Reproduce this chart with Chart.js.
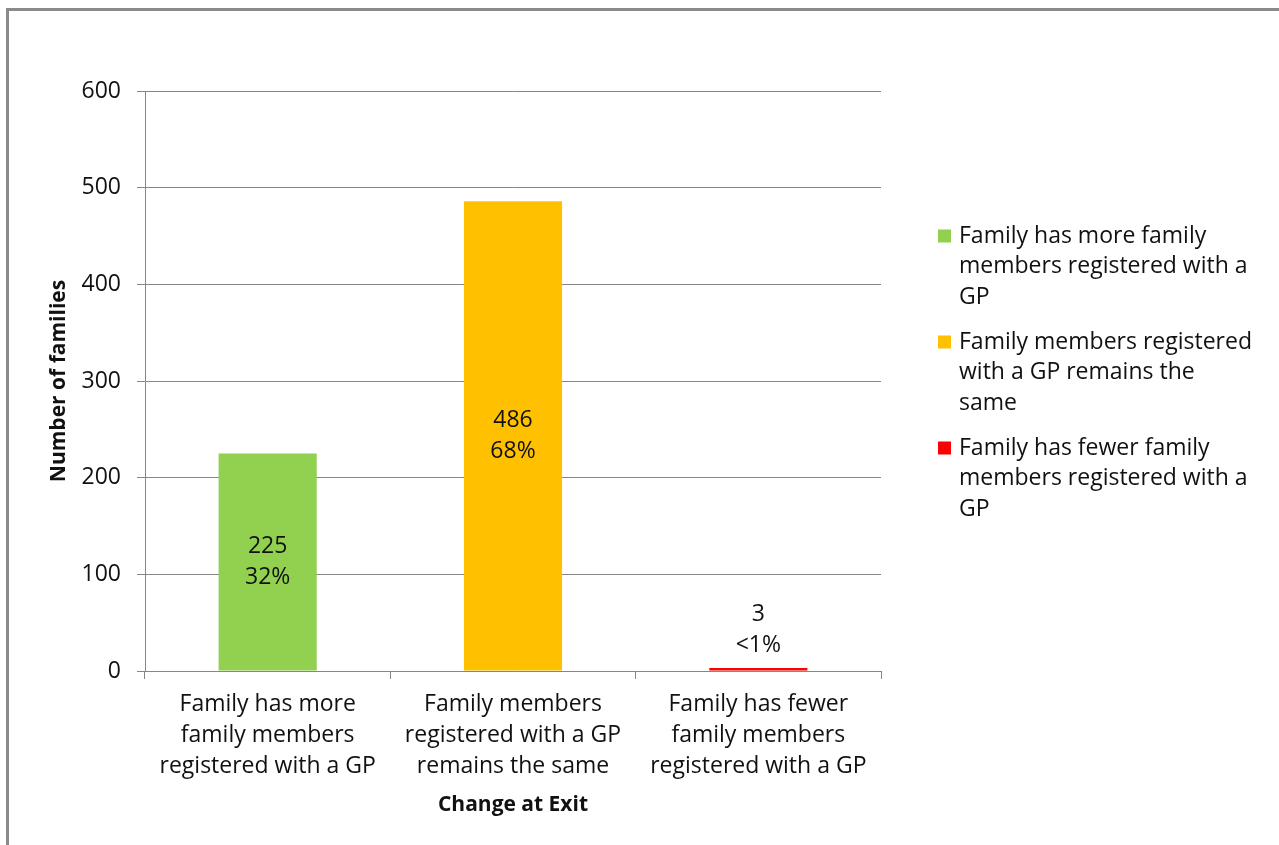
<!DOCTYPE html>
<html><head><meta charset="utf-8">
<script src="https://cdn.jsdelivr.net/npm/chart.js@4"></script>
<style>
html,body{margin:0;padding:0;background:#fff;overflow:hidden;}
#frame{position:absolute;left:6px;top:8px;width:1400px;height:900px;border-left:3px solid #8a8a8a;border-top:3px solid #8a8a8a;}
#wrap{position:absolute;left:0;top:0;width:1279px;height:845px;}
</style></head><body>
<div id="frame"></div>
<div id="wrap"><canvas id="c" width="1279" height="845"></canvas></div>
<script>
const categories = [
  ["Family has more", "family members", "registered with a GP"],
  ["Family members", "registered with a GP", "remains the same"],
  ["Family has fewer", "family members", "registered with a GP"]
];
const values = [225, 486, 3];
const percentLabels = ['32%', '68%', '<1%'];
const barColors = ['#92D050', '#FFC000', '#FF0000'];
const legendLabels = [
  ["Family has more family", "members registered with a", "GP"],
  ["Family members registered", "with a GP remains the", "same"],
  ["Family has fewer family", "members registered with a", "GP"]
];
const yMin = 0, yMax = 600, yStep = 100;
const xTitle = 'Change at Exit';
const yTitle = 'Number of families';

const FONT = '"Open Sans", sans-serif';
const FS = 23;
const TFS = 21;
const TXT = '#111';
const GRID = '#868686';

const dataLabelPlugin = {
  id: 'dataLabels',
  afterDatasetsDraw(chart) {
    const ctx = chart.ctx;
    const meta = chart.getDatasetMeta(0);
    const lh = 31;
    ctx.save();
    ctx.font = FS + 'px ' + FONT;
    ctx.fillStyle = TXT;
    ctx.textAlign = 'center';
    ctx.textBaseline = 'middle';
    meta.data.forEach((bar, i) => {
      const h = bar.base - bar.y;
      let cy = h > 80 ? (bar.y + bar.base) / 2 : bar.y - 38;
      ctx.fillText(String(values[i]), bar.x, cy - lh / 2);
      ctx.fillText(percentLabels[i], bar.x, cy + lh / 2);
    });
    ctx.restore();
  }
};

const legendPlugin = {
  id: 'customLegend',
  afterDraw(chart) {
    const ctx = chart.ctx;
    const ca = chart.chartArea;
    const x0 = ca.right + 57;
    const y0 = 236;
    const lh = 30.7;
    const itemGap = 106;
    ctx.save();
    ctx.font = FS + 'px ' + FONT;
    ctx.textAlign = 'left';
    ctx.textBaseline = 'middle';
    legendLabels.forEach((lines, i) => {
      const yy = y0 + i * itemGap;
      ctx.fillStyle = barColors[i];
      ctx.fillRect(x0, yy - 6.5, 13, 13);
      ctx.fillStyle = TXT;
      lines.forEach((t, j) => ctx.fillText(t, x0 + 21, yy + j * lh));
    });
    ctx.restore();
  }
};

new Chart(document.getElementById('c'), {
  type: 'bar',
  data: {
    labels: categories,
    datasets: [{
      data: values,
      backgroundColor: barColors,
      borderWidth: 0,
      barPercentage: 0.4,
      categoryPercentage: 1.0
    }]
  },
  options: {
    responsive: false,
    animation: false,
    devicePixelRatio: 1,
    layout: { padding: { left: 30, right: 398, top: 91, bottom: 0 } },
    plugins: { legend: { display: false }, tooltip: { enabled: false } },
    scales: {
      x: {
        offset: true,
        grid: { display: true, drawOnChartArea: false, drawTicks: true, tickLength: 8, offset: true, color: GRID },
        border: { color: GRID },
        ticks: { color: TXT, font: { family: FONT, size: FS, lineHeight: 1.348 }, padding: 10, maxRotation: 0, autoSkip: false },
        title: { display: true, text: xTitle, color: TXT, font: { family: FONT, size: TFS, weight: 'bold', lineHeight: 1.2 }, padding: { top: 0, bottom: 27 } },
        afterFit(scale) { scale.height = 174; }
      },
      y: {
        min: yMin, max: yMax,
        grid: { color: GRID, tickLength: 8 },
        border: { color: GRID },
        ticks: { stepSize: yStep, color: TXT, font: { family: FONT, size: FS }, padding: 16 },
        title: { display: true, text: yTitle, color: TXT, font: { family: FONT, size: TFS, weight: 'bold', lineHeight: 1.2 }, padding: { top: 16, bottom: 0 } },
        afterFit(scale) { scale.width = 115; }
      }
    }
  },
  plugins: [dataLabelPlugin, legendPlugin]
});
</script>
</body></html>
